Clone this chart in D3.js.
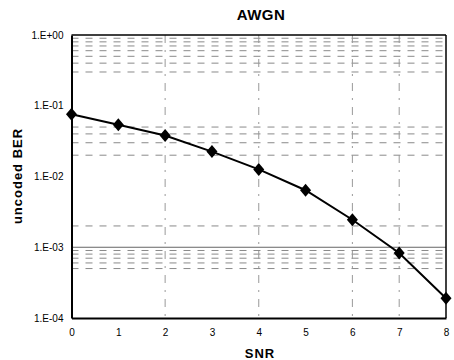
<!DOCTYPE html>
<html><head><meta charset="utf-8">
<script src="https://cdn.jsdelivr.net/npm/d3@7"></script>
<style>
body{margin:0;background:#fff;}
text{font-family:"Liberation Sans",Arial,sans-serif;fill:#000;}
</style></head>
<body><svg id="c" width="454" height="360"></svg>
<script>
const snr = [0,1,2,3,4,5,6,7,8];
const ber = [0.076,0.054,0.038,0.0225,0.0126,0.0064,0.00245,0.00083,0.00019];
const yTicks = [1,0.1,0.01,0.001,0.0001];
const yTickLabels = ["1.E+00","1.E-01","1.E-02","1.E-03","1.E-04"];
const xTicks = [0,1,2,3,4,5,6,7,8];
const hGrid = [0.9,0.8,0.7,0.6,0.5,0.4,0.3,0.05,0.04,0.03,0.02,0.002,0.0009,0.0008,0.0007,0.0006,0.0005];
const hGridSolid = [0.001];
const vGrid = [2,4,6,7];

const svg = d3.select("#c");
const x = d3.scaleLinear().domain([0,8]).range([71.5,446]);
const y = d3.scaleLog().domain([1e-4,1]).range([318,35]);

// gridlines
svg.append("g").selectAll("line").data(hGrid).join("line")
  .attr("x1",x(0)).attr("x2",x(8)).attr("y1",d=>y(d)).attr("y2",d=>y(d))
  .attr("stroke","#8a8a8a").attr("stroke-width",1).attr("stroke-dasharray","7,7");
svg.append("g").selectAll("line").data(hGridSolid).join("line")
  .attr("x1",x(0)).attr("x2",x(8)).attr("y1",d=>y(d)).attr("y2",d=>y(d))
  .attr("stroke","#666").attr("stroke-width",1);
svg.append("g").selectAll("line").data(vGrid).join("line")
  .attr("x1",d=>x(d)).attr("x2",d=>x(d)).attr("y1",y(1)).attr("y2",y(1e-4))
  .attr("stroke","#999").attr("stroke-width",1).attr("stroke-dasharray","8,7,2,7");

// frame
svg.append("line").attr("x1",x(0)).attr("x2",x(8)).attr("y1",y(1)).attr("y2",y(1)).attr("stroke","#000").attr("stroke-width",1.5);
svg.append("line").attr("x1",x(8)).attr("x2",x(8)).attr("y1",y(1)).attr("y2",y(1e-4)).attr("stroke","#000").attr("stroke-width",1.5);

// axes
const yAxis = d3.axisLeft(y).tickValues(yTicks).tickSize(0).tickPadding(8)
  .tickFormat((d,i)=>yTickLabels[i]);
const gy = svg.append("g").attr("transform",`translate(${x(0)},0)`).call(yAxis);
gy.select(".domain").attr("stroke","#000").attr("stroke-width",2);
gy.selectAll("text").attr("font-size",10).attr("font-family","Liberation Sans, Arial, sans-serif");

const xAxis = d3.axisBottom(x).tickValues(xTicks).tickSize(0).tickPadding(11).tickFormat(d3.format("d"));
const gx = svg.append("g").attr("transform",`translate(0,${y(1e-4)})`).call(xAxis);
gx.select(".domain").attr("stroke","#000").attr("stroke-width",2);
gx.selectAll("text").attr("font-size",10).attr("font-family","Liberation Sans, Arial, sans-serif");

// line
const data = snr.map((s,i)=>({s, b:ber[i]}));
svg.append("path").datum(data)
  .attr("d", d3.line().x(d=>x(d.s)).y(d=>y(d.b)))
  .attr("fill","none").attr("stroke","#000").attr("stroke-width",2);
svg.append("g").selectAll("path").data(data).join("path")
  .attr("transform",d=>`translate(${x(d.s)},${y(d.b)})`)
  .attr("d","M0,-6.5L5.5,0L0,6.5L-5.5,0Z").attr("fill","#000");

// titles
svg.append("text").attr("x",261).attr("y",20).attr("text-anchor","middle")
  .attr("font-size",15).attr("font-weight","bold").style("letter-spacing","0.5px").text("AWGN");
svg.append("text").attr("x",260).attr("y",358).attr("text-anchor","middle")
  .attr("font-size",13).attr("font-weight","bold").style("letter-spacing","1px").text("SNR");
svg.append("text").attr("transform","translate(22,176) rotate(-90)").attr("text-anchor","middle")
  .attr("font-size",13).attr("font-weight","bold").style("letter-spacing","1px").text("uncoded BER");
</script></body></html>
